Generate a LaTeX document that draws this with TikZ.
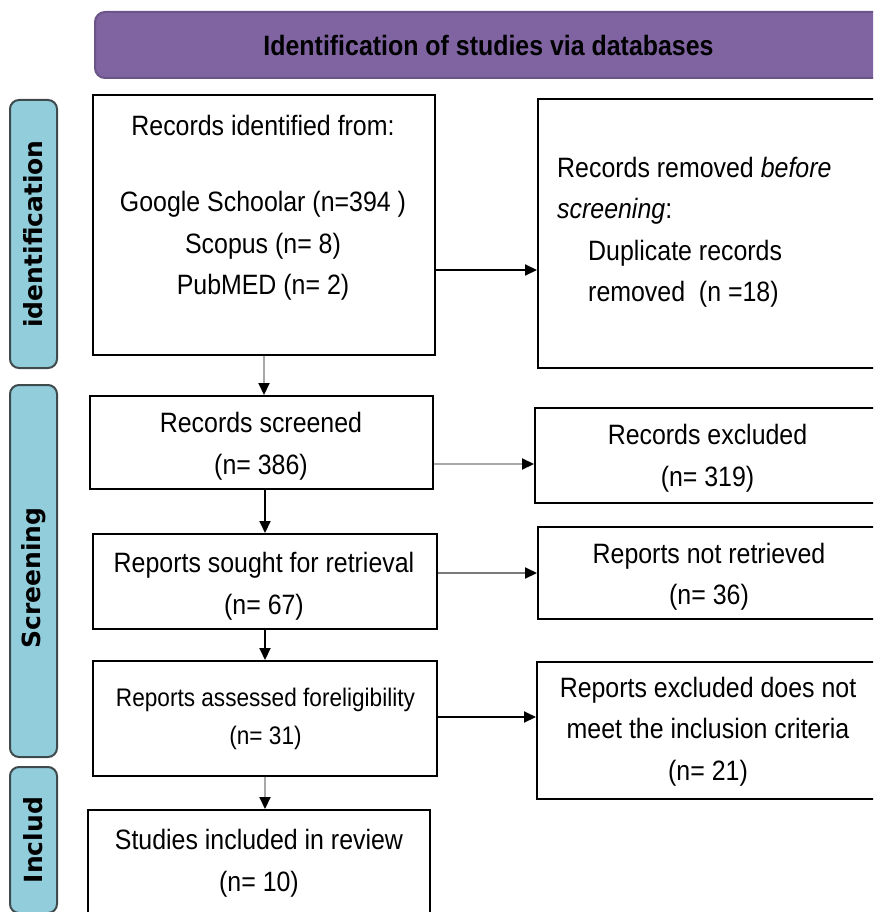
\documentclass[tikz,border=0pt]{standalone}
\usepackage{fontspec}
\setmainfont[FakeStretch=0.89]{Liberation Sans}
\newfontfamily\labelfont{DejaVu Sans}
\usetikzlibrary{arrows.meta}
\definecolor{hdrpurple}{HTML}{8064A2}
\definecolor{hdrborder}{HTML}{6A5488}
\definecolor{sideblue}{HTML}{92CDDC}
\definecolor{sideborder}{HTML}{3F4A4D}
\definecolor{lightline}{HTML}{A8A8A8}
\definecolor{midline}{HTML}{7A7A7A}
\tikzset{
  x=1pt, y=-1pt,
  boxnode/.style={draw=black, line width=2pt, fill=white, inner sep=0pt},
  txt/.style={align=center, font=\fontsize{28}{41.5}\selectfont, inner sep=0pt},
  sidebox/.style={draw=sideborder, line width=2pt, fill=sideblue, rounded corners=9pt,
     rotate=90, minimum height=47pt, inner sep=0pt,
     font=\labelfont\bfseries\fontsize{25}{30}\selectfont},
  conn/.style={line width=2pt, -{Triangle[length=12pt,width=11pt,color=black]}},
}
\begin{document}
\begin{tikzpicture}
\useasboundingbox (0,0) rectangle (873,912);
\clip (0,0) rectangle (873,912);

% header
\node[draw=hdrborder, line width=2pt, fill=hdrpurple, rounded corners=10pt,
      minimum width=810pt, minimum height=66pt, inner sep=0pt] (hdr) at (500,45) {};
\node[font=\bfseries\fontsize{28}{32}\selectfont, inner sep=0pt] (hdrtxt) at (488.5,45)
  {Identification of studies via databases};

% side labels
\node[sidebox, minimum width=268pt] (sideid) at (33.5,234) {identification};
\node[sidebox, minimum width=372pt] (sidescr) at (33.5,571) {};
\node[font=\labelfont\bfseries\fontsize{25}{30}\selectfont, rotate=90, inner sep=0pt] (sidescrtxt) at (33.5,578) {Screening};
\node[sidebox, minimum width=146pt] (sideinc) at (33.5,840) {Includ};

% left boxes
\node[boxnode, minimum width=342pt, minimum height=260pt] (idf) at (264,225) {};
\node[boxnode, minimum width=343pt, minimum height=93pt] (scr) at (261.5,442.5) {};
\node[boxnode, minimum width=344pt, minimum height=95pt] (sought) at (265,581.5) {};
\node[boxnode, minimum width=344pt, minimum height=115pt] (assessed) at (265,718.5) {};
\node[boxnode, minimum width=342pt, minimum height=124pt] (studies) at (259,872) {};

% right boxes
\node[boxnode, minimum width=352pt, minimum height=269pt] (removed) at (714,233.5) {};
\node[boxnode, minimum width=355pt, minimum height=95pt] (excl) at (712.5,455.5) {};
\node[boxnode, minimum width=352pt, minimum height=92pt] (notret) at (714,573) {};
\node[boxnode, minimum width=353pt, minimum height=137pt] (rexcl) at (713.5,730.5) {};

% texts
\node[txt] (idft1) at (263,125) {Records identified from:};
\node[txt] (idft2) at (263,246) {Google Schoolar (n=394 )\\Scopus (n= 8)\\PubMED (n= 2)};
\node[txt] (scrt) at (261,446) {Records screened\\(n= 386)};
\node[txt] (soughtt) at (264,586) {Reports sought for retrieval\\(n= 67)};
\node[txt, font=\fontsize{25.4}{38}\selectfont] (assessedt) at (265.5,719) {Reports assessed foreligibility\\(n= 31)};
\node[txt] (studiest) at (259,863) {Studies included in review\\(n= 10)};

\node[txt, align=left, anchor=west] (removedt) at (557,232.5)
  {Records removed \textit{before}\\\textit{screening}:\\\hspace*{31pt}Duplicate records\\\hspace*{31pt}removed\ \ (n =18)};
\node[txt] (exclt) at (707.5,458) {Records excluded\\(n= 319)};
\node[txt] (notrett) at (709,576.5) {Reports not retrieved\\(n= 36)};
\node[txt] (rexclt) at (708,731.5) {Reports excluded does not\\meet the inclusion criteria\\(n= 21)};

% connectors
\draw[conn, draw=lightline] (idf.south) -- (idf.south |- scr.north);
\draw[conn, draw=black] (scr.south -| sought.north) -- (sought.north);
\draw[conn, draw=black] (sought.south) -- (assessed.north);
\draw[conn, draw=lightline] (assessed.south) -- (assessed.south |- studies.north);

\draw[conn, draw=black] ([yshift=-45pt]idf.east) -- ([yshift=-45pt]idf.east -| removed.west);
\draw[conn, draw=lightline] ([yshift=-21.5pt]scr.east) -- ([yshift=-21.5pt]scr.east -| excl.west);
\draw[conn, draw=midline] ([yshift=8.5pt]sought.east) -- ([yshift=8.5pt]sought.east -| notret.west);
\draw[conn, draw=black] ([yshift=1.5pt]assessed.east) -- ([yshift=1.5pt]assessed.east -| rexcl.west);
\end{tikzpicture}
\end{document}
